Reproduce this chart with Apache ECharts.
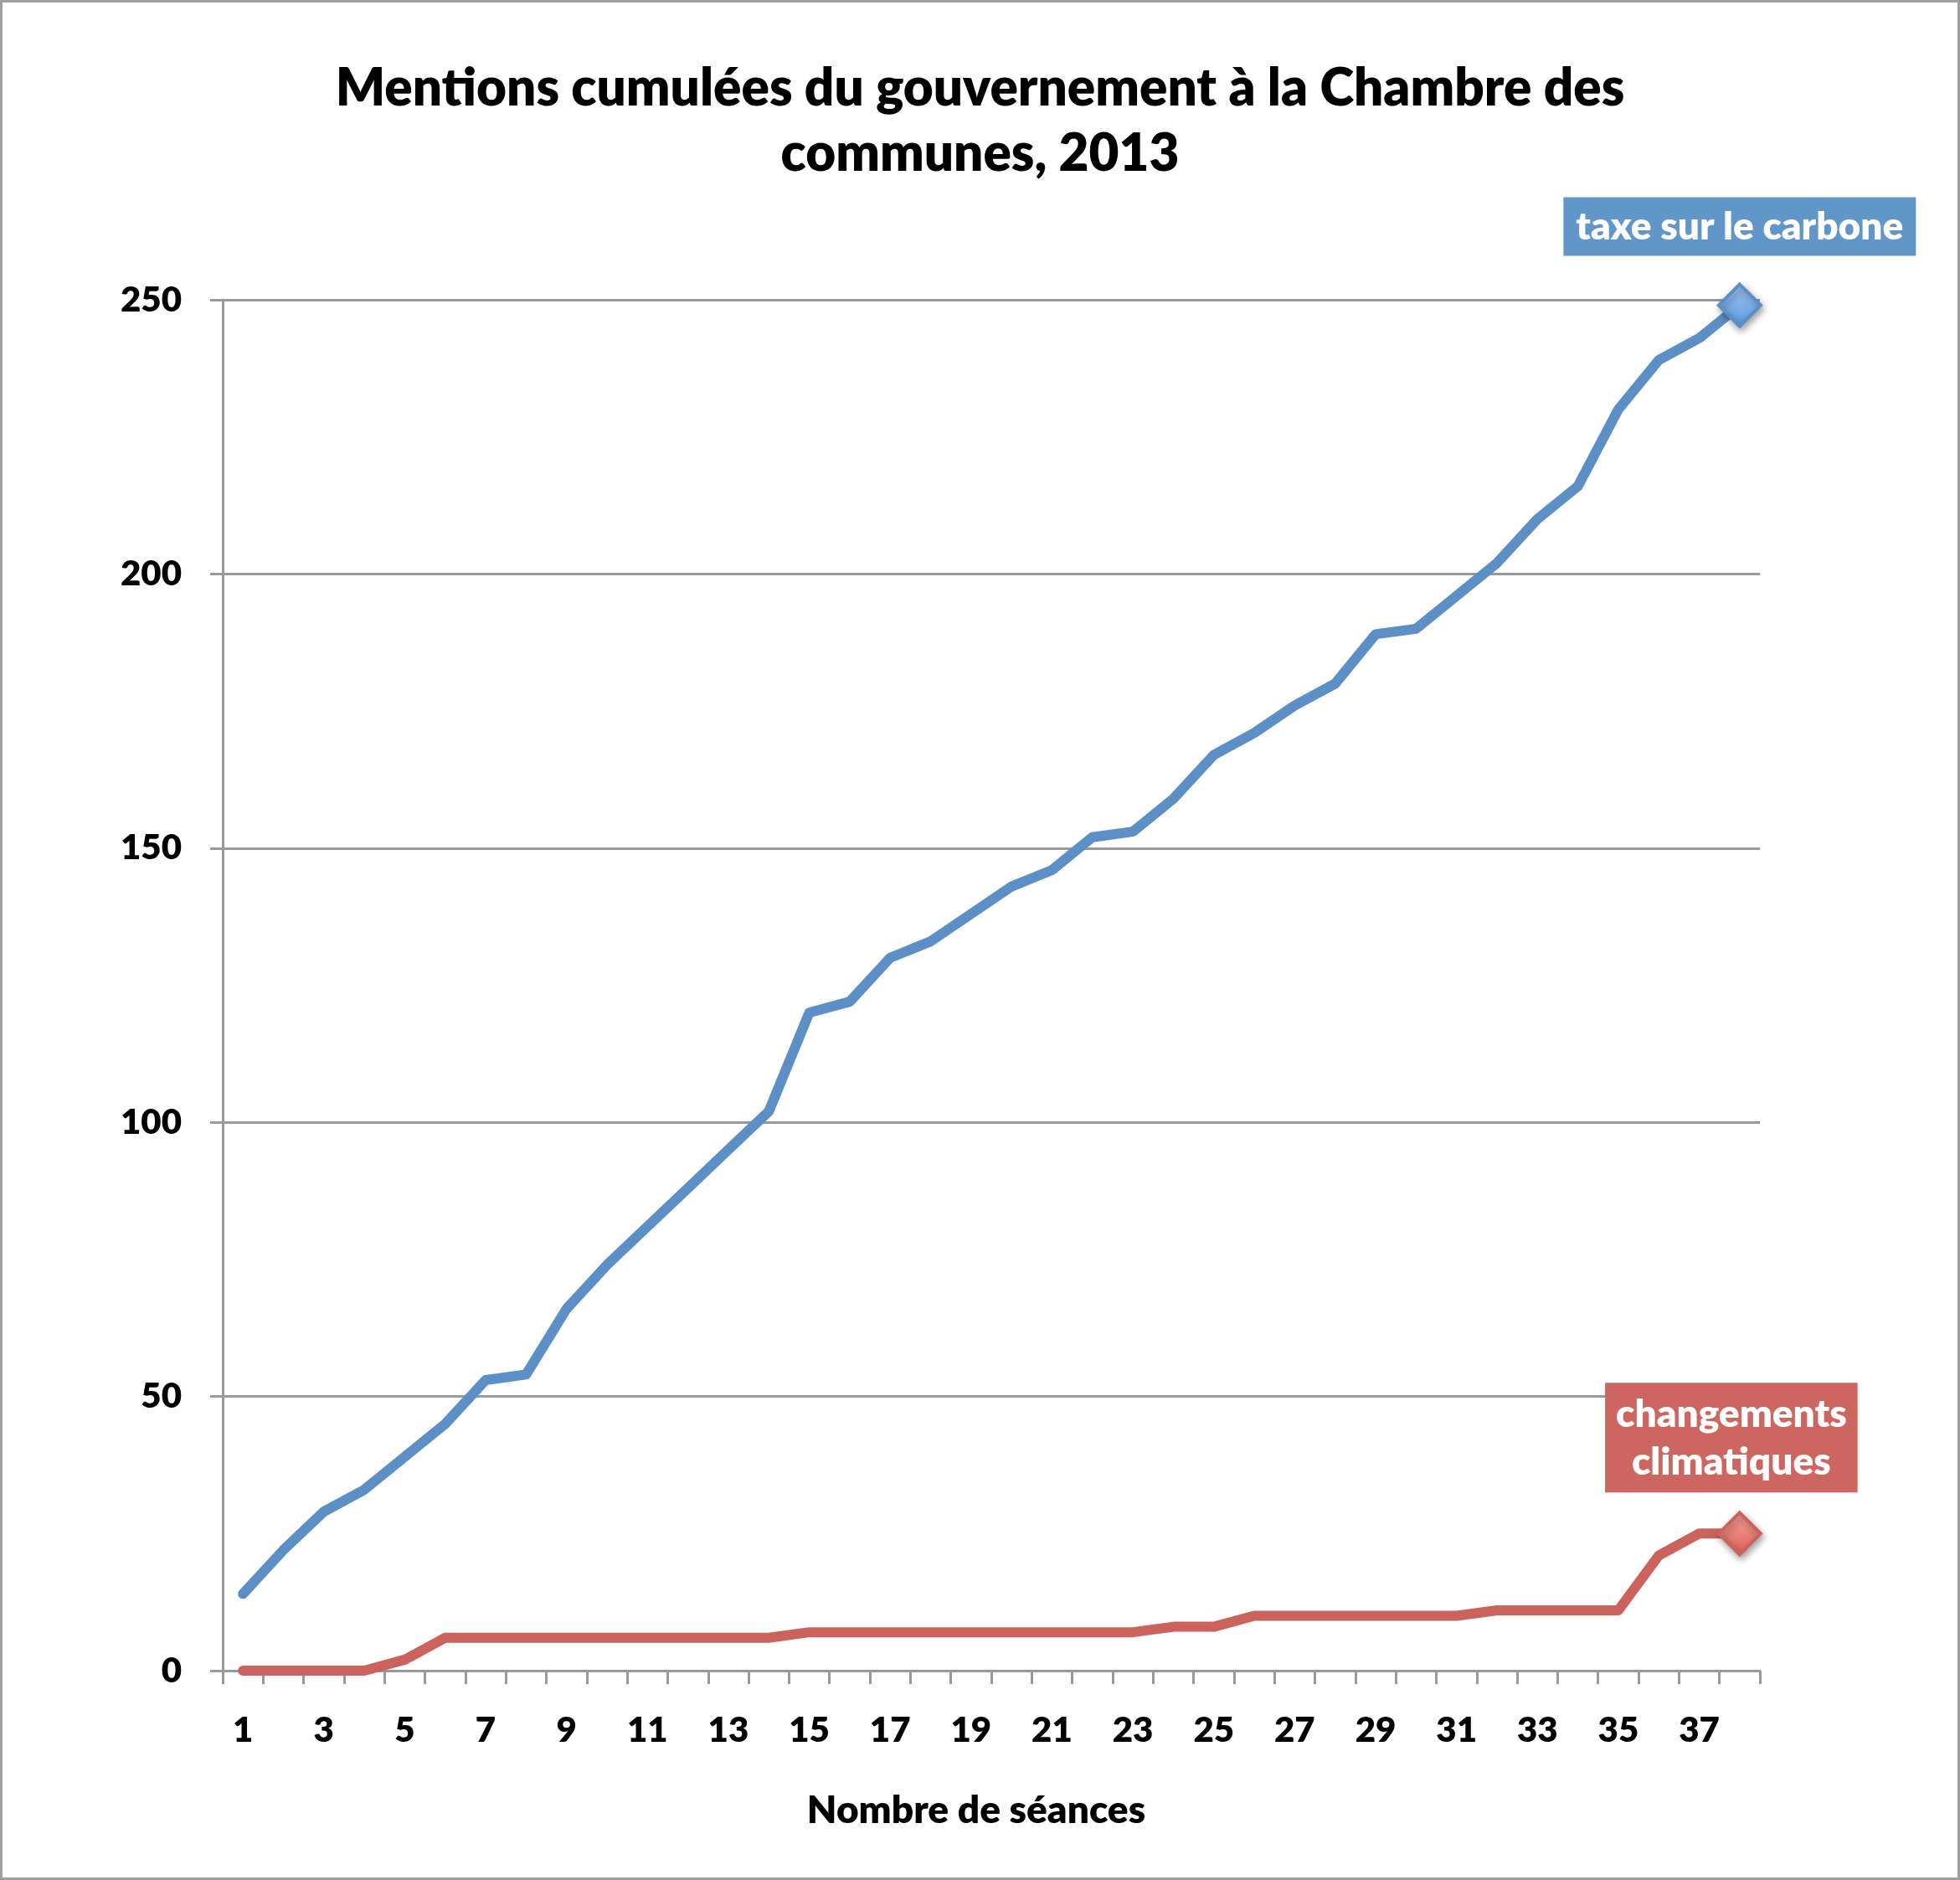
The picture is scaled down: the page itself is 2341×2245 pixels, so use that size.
<!DOCTYPE html>
<html>
<head>
<meta charset="utf-8">
<script src="https://cdn.jsdelivr.net/npm/echarts@6/dist/echarts.min.js"></script>
<style>
html,body{margin:0;padding:0;background:#fff;}
#chart{width:2341px;height:2245px;}
</style>
</head>
<body>
<div id="chart"></div>
<script>
const titleLines = ["Mentions cumulées du gouvernement à la Chambre des", "communes, 2013"];
const categories = ["1","2","3","4","5","6","7","8","9","10","11","12","13","14","15","16","17","18","19","20","21","22","23","24","25","26","27","28","29","30","31","32","33","34","35","36","37","38"];
const carbonTax = [14,22,29,33,39,45,53,54,66,74,81,88,95,102,120,122,130,133,138,143,146,152,153,159,167,171,176,180,189,190,196,202,210,216,230,239,243,249];
const climateChange = [0,0,0,0,2,6,6,6,6,6,6,6,6,6,7,7,7,7,7,7,7,7,7,8,8,10,10,10,10,10,10,11,11,11,11,21,25,25];
const carbonName = "taxe sur le carbone";
const climateName = "changements\nclimatiques";
const xAxisName = "Nombre de séances";

const FONT = "Lato";
const WEIGHT = 800;
const chart = echarts.init(document.getElementById('chart'));

function buildData(values, labelText, color, boxColor, gradTop, gradBottom, labelDist, pad, offset) {
  return values.map((v, i) => {
    if (i !== values.length - 1) return v;
    return {
      value: v,
      symbol: 'diamond',
      symbolSize: 50,
      itemStyle: {
        color: new echarts.graphic.LinearGradient(0, 0, 0, 1, [
          {offset: 0, color: gradTop}, {offset: 1, color: gradBottom}
        ]),
        borderColor: color,
        borderWidth: 4,
        shadowColor: 'rgba(0,0,0,0.35)',
        shadowBlur: 8,
        shadowOffsetX: 2,
        shadowOffsetY: 4
      },
      label: {
        show: true,
        position: 'top',
        distance: labelDist,
        offset: offset,
        formatter: labelText,
        color: '#fff',
        fontFamily: FONT,
        fontWeight: WEIGHT,
        fontSize: 46,
        lineHeight: 57,
        backgroundColor: boxColor,
        padding: pad,
        align: 'center'
      }
    };
  });
}

chart.setOption({
  animation: false,
  backgroundColor: '#ffffff',
  graphic: [{
    type: 'rect',
    shape: {x: 1.5, y: 1.5, width: 2338, height: 2242},
    style: {fill: 'none', stroke: '#a0a0a0', lineWidth: 3},
    silent: true
  }],
  title: {
    text: titleLines.join('\n'),
    left: 'center',
    top: 62,
    textStyle: {
      fontFamily: FONT,
      fontWeight: WEIGHT,
      fontSize: 62,
      lineHeight: 78,
      color: '#000'
    }
  },
  grid: {left: 266, right: 239, top: 358, bottom: 250, containLabel: false},
  xAxis: {
    type: 'category',
    data: categories,
    boundaryGap: true,
    name: xAxisName,
    nameLocation: 'middle',
    nameGap: 144,
    nameTextStyle: {fontFamily: FONT, fontWeight: WEIGHT, fontSize: 46, color: '#000', padding: [0, 36, 0, 0]},
    axisLine: {show: true, lineStyle: {color: '#999', width: 3}},
    axisTick: {show: true, interval: 0, length: 16, lineStyle: {color: '#999', width: 3}},
    axisLabel: {interval: 1, margin: 50, fontFamily: FONT, fontWeight: WEIGHT, fontSize: 42, color: '#000'},
    splitLine: {show: false}
  },
  yAxis: {
    type: 'value',
    min: 0, max: 250, interval: 50,
    axisLine: {show: true, lineStyle: {color: '#999', width: 3}},
    axisTick: {show: true, length: 15, lineStyle: {color: '#999', width: 3}},
    axisLabel: {margin: 49, fontFamily: FONT, fontWeight: WEIGHT, fontSize: 42, color: '#000'},
    splitLine: {show: true, lineStyle: {color: '#999', width: 3}}
  },
  series: [
    {
      name: carbonName,
      type: 'line',
      data: buildData(carbonTax, carbonName, '#5B8FC6', '#6196C9', '#A4C8F2', '#5A96DC', 32, [7, 15, 6, 15], [0, 0]),
      symbol: 'none',
      showSymbol: true,
      lineStyle: {color: '#5B8FC6', width: 12, cap: 'round', join: 'round'},
      itemStyle: {color: '#5B8FC6'},
      z: 3
    },
    {
      name: climateName,
      type: 'line',
      data: buildData(climateChange, climateName, '#CC625C', '#CD6660', '#F5A39D', '#DF5F59', 22, [9, 13, 8, 13], [-10, 0]),
      symbol: 'none',
      showSymbol: true,
      lineStyle: {color: '#CC625C', width: 12, cap: 'round', join: 'round'},
      itemStyle: {color: '#CC625C'},
      z: 3
    }
  ]
});
</script>
</body>
</html>
